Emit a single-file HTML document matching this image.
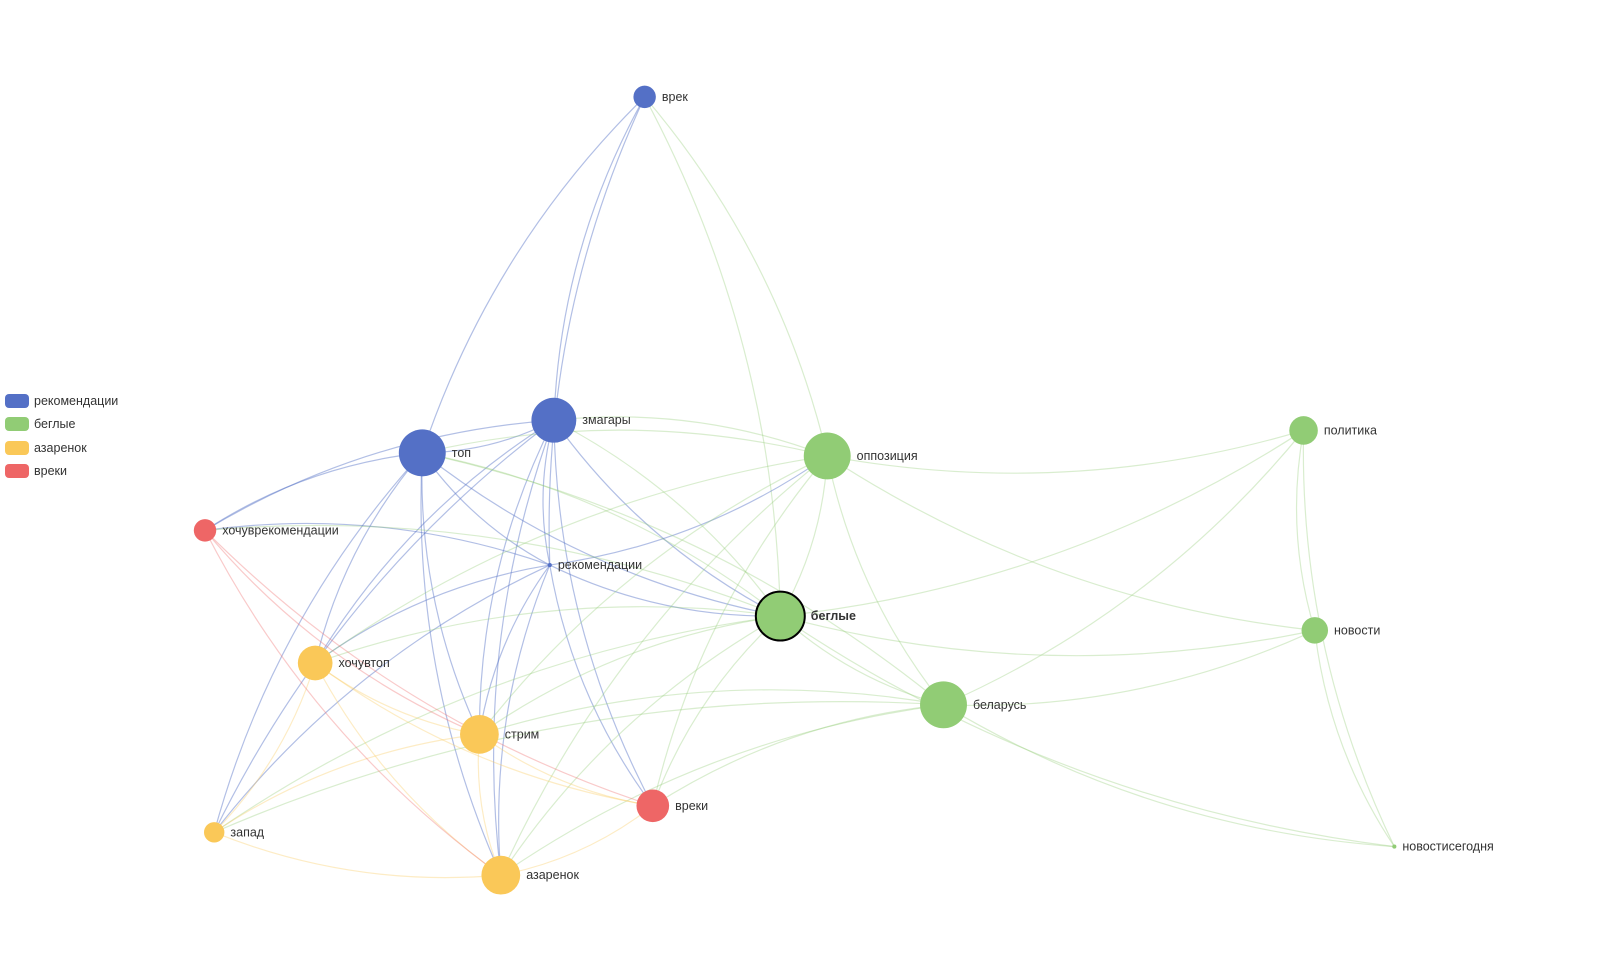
<!DOCTYPE html>
<html><head><meta charset="utf-8"><style>
html,body{margin:0;padding:0;background:#fff;width:1600px;height:973px;overflow:hidden}
svg{display:block}
text{font-family:"Liberation Sans","DejaVu Sans",sans-serif;font-size:12.5px;fill:#333}
</style></head><body>
<svg id="s" width="1600" height="973" xmlns="http://www.w3.org/2000/svg">
<g id="edges" fill="none"></g>
<g id="nodes"></g>
<g id="legend">
<rect x="5" y="394" width="24" height="14" rx="4" fill="#5470c6"/><text x="34" y="405">рекомендации</text>
<rect x="5" y="417" width="24" height="14" rx="4" fill="#91cc75"/><text x="34" y="428">беглые</text>
<rect x="5" y="441" width="24" height="14" rx="4" fill="#fac858"/><text x="34" y="452">азаренок</text>
<rect x="5" y="464" width="24" height="14" rx="4" fill="#ee6666"/><text x="34" y="475">вреки</text>
</g>
</svg>
<script>
var S=1.02;
var C={b:"#5470c6",g:"#91cc75",y:"#fac858",r:"#ee6666"};
var N={
"врек":[632,95,11,"b"],"змагары":[543,412,22,"b"],"топ":[414,444,23,"b"],"рекомендации":[539,554,2,"b"],
"хочуврекомендации":[201,520,11,"r"],"хочувтоп":[309,650,17,"y"],"стрим":[470,720,19,"y"],"запад":[210,816,10,"y"],
"азаренок":[491,858,19,"y"],"вреки":[640,790,16,"r"],"оппозиция":[811,447,23,"g"],"беглые":[765,604,24,"g"],
"беларусь":[925,691,23,"g"],"политика":[1278,422,14,"g"],"новости":[1289,618,13,"g"],"новостисегодня":[1367,830,2,"g"]};
var E=[
["врек","топ"],["врек","змагары"],["врек","рекомендации"],["оппозиция","врек"],["беглые","врек"],
["топ","змагары"],["топ","хочуврекомендации"],["топ","рекомендации"],["топ","хочувтоп"],["топ","стрим"],["топ","азаренок"],["топ","запад"],["топ","беглые"],
["змагары","хочуврекомендации"],["змагары","хочувтоп"],["змагары","стрим"],["змагары","азаренок"],["змагары","вреки"],["змагары","беглые"],["змагары","рекомендации"],["змагары","запад"],
["рекомендации","хочуврекомендации"],["рекомендации","хочувтоп"],["рекомендации","стрим"],["рекомендации","азаренок"],["рекомендации","вреки"],["рекомендации","беглые"],["рекомендации","оппозиция"],["рекомендации","запад"],
["беглые","оппозиция"],["беглые","беларусь"],["беглые","политика"],["беглые","новости"],["беглые","новостисегодня"],["беглые","хочувтоп"],["беглые","стрим"],["беглые","азаренок"],["беглые","вреки"],["беглые","запад"],["беглые","хочуврекомендации"],["беглые","топ"],["беглые","змагары"],
["оппозиция","топ"],["оппозиция","змагары"],["оппозиция","политика"],["оппозиция","новости"],["оппозиция","беларусь"],["оппозиция","стрим"],["оппозиция","хочувтоп"],["оппозиция","азаренок"],["оппозиция","вреки"],
["беларусь","политика"],["беларусь","новости"],["беларусь","новостисегодня"],["беларусь","вреки"],["беларусь","азаренок"],["беларусь","стрим"],["беларусь","запад"],["беларусь","топ"],
["политика","новости"],["политика","новостисегодня"],["новости","новостисегодня"],
["хочувтоп","стрим"],["хочувтоп","азаренок"],["хочувтоп","вреки"],["запад","азаренок"],["запад","хочувтоп"],["стрим","азаренок"],["стрим","вреки"],["азаренок","вреки"],["стрим","запад"],
["хочуврекомендации","вреки"],["хочуврекомендации","азаренок"],["хочуврекомендации","стрим"]];
for(var k in N){N[k][0]*=S;N[k][1]*=S;N[k][2]*=S;}
var eg=document.getElementById("edges"),ng=document.getElementById("nodes"),ns="http://www.w3.org/2000/svg";
E.forEach(function(e){var a=N[e[0]],b=N[e[1]];var mx=(a[0]+b[0])/2,my=(a[1]+b[1])/2,dx=b[0]-a[0],dy=b[1]-a[1];
var cx=mx-dy*0.12,cy=my+dx*0.12;var p=document.createElementNS(ns,"path");
p.setAttribute("d","M"+a[0]+","+a[1]+" Q"+cx+","+cy+" "+b[0]+","+b[1]);p.setAttribute("stroke",C[a[3]]);
p.setAttribute("stroke-opacity",a[3]=="b"?0.45:0.35);p.setAttribute("stroke-width",1.2);eg.appendChild(p);});
for(var k in N){var n=N[k];var c=document.createElementNS(ns,"circle");c.setAttribute("cx",n[0]);c.setAttribute("cy",n[1]);c.setAttribute("r",n[2]);
c.setAttribute("fill",C[n[3]]);if(k=="беглые"){c.setAttribute("stroke","#000");c.setAttribute("stroke-width",2);}ng.appendChild(c);
var t=document.createElementNS(ns,"text");t.setAttribute("x",n[0]+n[2]+6);t.setAttribute("y",n[1]+4);t.textContent=k;
if(k=="беглые")t.setAttribute("font-weight","bold");ng.appendChild(t);}
</script>
</body></html>
